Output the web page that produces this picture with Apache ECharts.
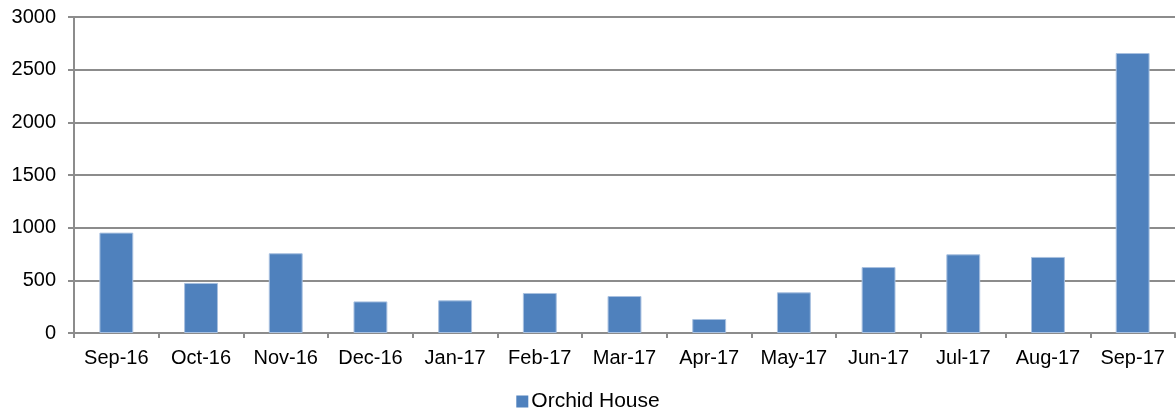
<!DOCTYPE html>
<html>
<head>
<meta charset="utf-8">
<script src="https://cdn.jsdelivr.net/npm/echarts@6/dist/echarts.min.js"></script>
<style>
  html, body { margin: 0; padding: 0; background: #fff; }
  #chart { width: 1176px; height: 414px; }
</style>
</head>
<body>
<div id="chart"></div>
<script>
// months and monthly values
var months = ['Sep-16', 'Oct-16', 'Nov-16', 'Dec-16', 'Jan-17', 'Feb-17', 'Mar-17', 'Apr-17', 'May-17', 'Jun-17', 'Jul-17', 'Aug-17', 'Sep-17'];
var orchidHouse = [953, 475, 757, 300, 310, 380, 351, 133, 386, 626, 747, 722, 2658];
var seriesName = 'Orchid House';

var myChart = echarts.init(document.getElementById('chart'));
var font = '"Liberation Sans", Arial, sans-serif';

var option = {
    animation: false,
    grid: {
        left: 74,
        right: 1,
        top: 17,
        bottom: 81,
        containLabel: false
    },
    legend: {
        data: [seriesName],
        bottom: -3,
        left: 'center',
        itemWidth: 12,
        itemHeight: 12,
        itemGap: 4,
        icon: 'rect',
        itemStyle: { borderWidth: 0 },
        textStyle: { fontFamily: font, fontSize: 21, color: '#000', padding: [0, 0, 0, -2] }
    },
    xAxis: {
        type: 'category',
        data: months,
        axisLine: { lineStyle: { color: '#8c8c8c', width: 2 } },
        axisTick: { show: true, length: 5, lineStyle: { color: '#8c8c8c', width: 2 } },
        axisLabel: { color: '#000', fontFamily: font, fontSize: 20, margin: 15, interval: 0 }
    },
    yAxis: {
        type: 'value',
        min: 0,
        max: 3000,
        interval: 500,
        axisLine: { show: true, lineStyle: { color: '#8c8c8c', width: 2 } },
        axisTick: { show: true, length: 6, lineStyle: { color: '#8c8c8c', width: 2 } },
        splitLine: { lineStyle: { color: '#8c8c8c', width: 2 } },
        axisLabel: {
            color: '#000', fontFamily: font, fontSize: 20, margin: 18,
            formatter: function (v) { return String(v); }
        }
    },
    series: [
        {
            name: seriesName,
            type: 'bar',
            data: orchidHouse,
            barWidth: '40%',
            itemStyle: { color: '#4f81bd', borderColor: '#a9c1e0', borderWidth: 1 }
        }
    ]
};

myChart.setOption(option);
</script>
</body>
</html>
